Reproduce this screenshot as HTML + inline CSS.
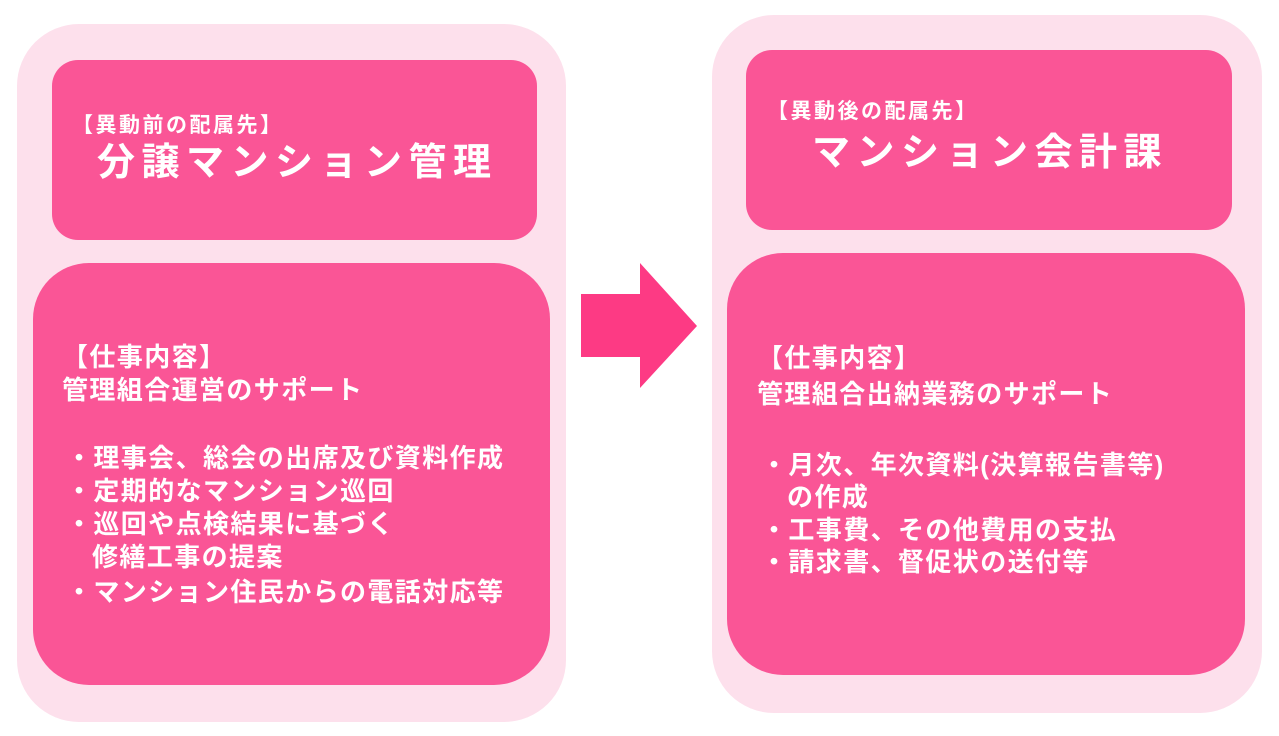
<!DOCTYPE html>
<html><head><meta charset="utf-8"><style>
body{margin:0;width:1279px;height:736px;background:#fff;position:relative;overflow:hidden;font-family:"Liberation Sans","Noto Sans CJK JP",sans-serif;color:#fff;font-weight:bold}
.a{position:absolute}
.outer{background:#fde0ec;border-radius:62px}
.box{background:#fa5596}
.t{position:absolute;white-space:nowrap;line-height:34px;font-size:26px;letter-spacing:1.4px;font-weight:bold}
.h{position:absolute;white-space:nowrap;font-size:21px;letter-spacing:2.5px;line-height:24px;font-weight:bold}
.ti{position:absolute;white-space:nowrap;font-size:38px;letter-spacing:6.5px;line-height:44px;font-weight:bold}
</style></head><body>
<div class="a outer" style="left:17px;top:24px;width:549px;height:698px"></div>
<div class="a box" style="left:52px;top:60px;width:485px;height:180px;border-radius:26px"></div>
<div class="a box" style="left:33px;top:263px;width:517px;height:422px;border-radius:56px"></div>
<div class="a outer" style="left:712px;top:15px;width:550px;height:698px"></div>
<div class="a box" style="left:746px;top:50px;width:486px;height:180px;border-radius:26px"></div>
<div class="a box" style="left:727px;top:253px;width:518px;height:422px;border-radius:56px"></div>
<svg class="a" style="left:0;top:0" width="1279" height="736"><polygon points="581,294 640,294 640,263 697,326 640,388 640,357 581,357" fill="#fd3a84"/></svg>

<div class="h" style="left:72px;top:114px">【異動前の配属先】</div>
<div class="ti" style="left:97px;top:141px">分譲マンション管理</div>
<div class="h" style="left:767px;top:100px">【異動後の配属先】</div>
<div class="ti" style="left:812px;top:131px">マンション会計課</div>

<div class="t" style="left:62px;top:340px">【仕事内容】</div>
<div class="t" style="left:62px;top:373px">管理組合運営のサポート</div>
<div class="t" style="left:66px;top:441px">・理事会、総会の出席及び資料作成</div>
<div class="t" style="left:66px;top:474px">・定期的なマンション巡回</div>
<div class="t" style="left:66px;top:507px">・巡回や点検結果に基づく</div>
<div class="t" style="left:92px;top:540px">修繕工事の提案</div>
<div class="t" style="left:66px;top:575px">・マンション住民からの電話対応等</div>

<div class="t" style="left:757px;top:341px">【仕事内容】</div>
<div class="t" style="left:757px;top:377px">管理組合出納業務のサポート</div>
<div class="t" style="left:761px;top:448px">・月次、年次資料(決算報告書等)</div>
<div class="t" style="left:787px;top:480px">の作成</div>
<div class="t" style="left:761px;top:513px">・工事費、その他費用の支払</div>
<div class="t" style="left:761px;top:545px">・請求書、督促状の送付等</div>
</body></html>
